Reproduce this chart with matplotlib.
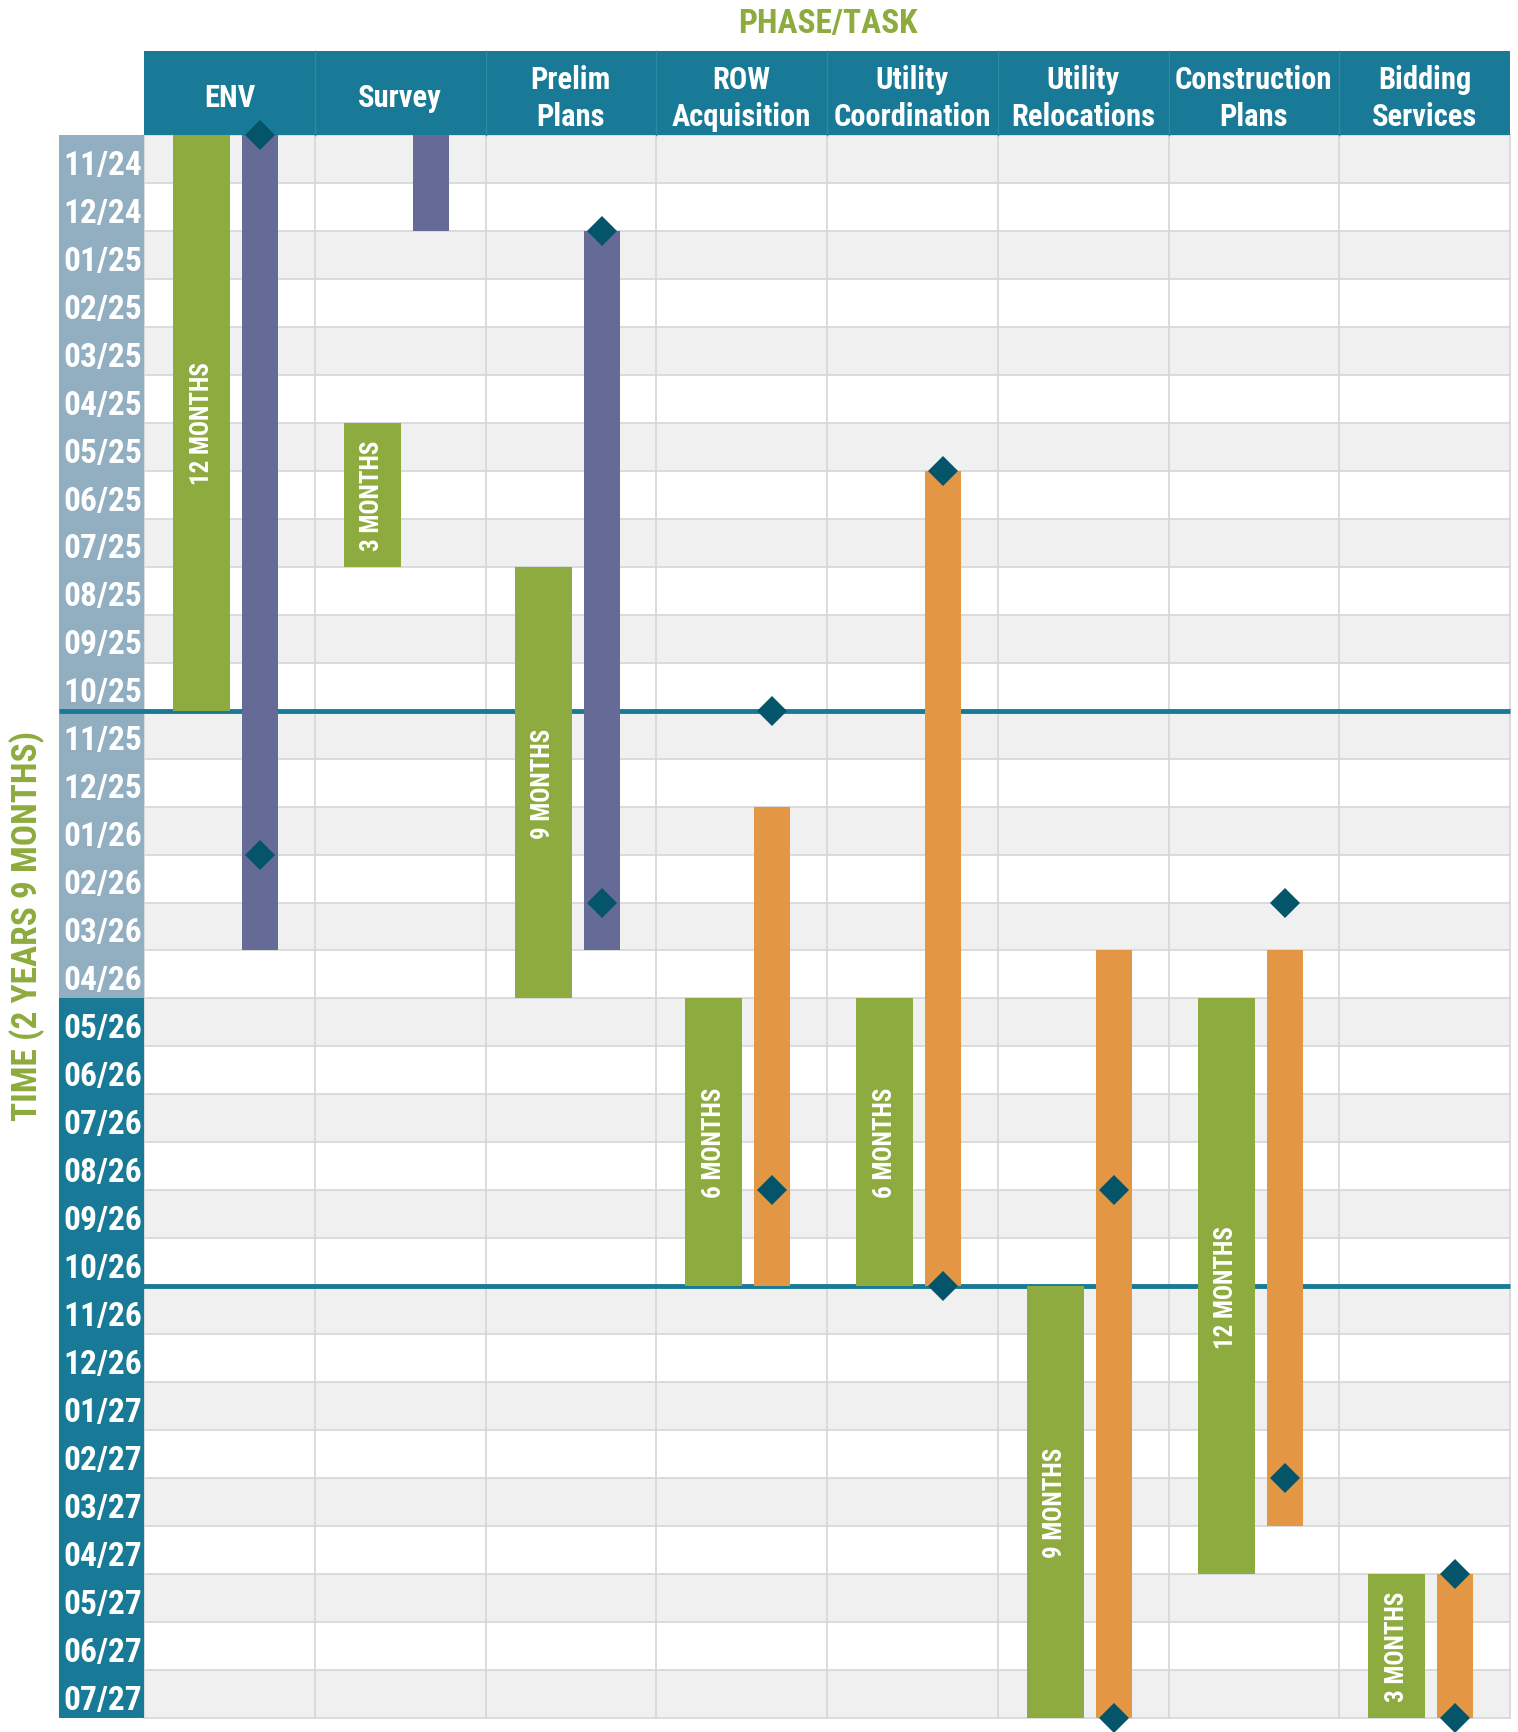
import matplotlib
matplotlib.use('Agg')
import matplotlib.pyplot as plt
from matplotlib import font_manager
from matplotlib.patches import Rectangle

# month rows, top to bottom
months = ['11/24', '12/24',
          '01/25', '02/25', '03/25', '04/25', '05/25', '06/25',
          '07/25', '08/25', '09/25', '10/25', '11/25', '12/25',
          '01/26', '02/26', '03/26', '04/26', '05/26', '06/26',
          '07/26', '08/26', '09/26', '10/26', '11/26', '12/26',
          '01/27', '02/27', '03/27', '04/27', '05/27', '06/27', '07/27']

phases = ['ENV', 'Survey', 'Prelim\nPlans', 'ROW\nAcquisition',
          'Utility\nCoordination', 'Utility\nRelocations',
          'Construction\nPlans', 'Bidding\nServices']

# green duration bars (start row, end row)
green_start = [0, 6, 9, 18, 18, 24, 18, 30]
green_end = [12, 9, 18, 24, 24, 33, 30, 33]
green_text = ['12 MONTHS', '3 MONTHS', '9 MONTHS', '6 MONTHS',
              '6 MONTHS', '9 MONTHS', '12 MONTHS', '3 MONTHS']

# second bar in each column
second_start = [0, 0, 2, 14, 7, 17, 17, 30]
second_end = [17, 2, 17, 24, 24, 33, 29, 33]
second_kind = ['purple', 'purple', 'purple', 'orange',
               'orange', 'orange', 'orange', 'orange']

# milestones (column, row boundary)
diamond_col = [0, 0, 2, 2, 3, 3, 4, 4, 5, 5, 6, 6, 7, 7]
diamond_row = [0, 15, 2, 16, 12, 22, 7, 24, 22, 33, 16, 28, 30, 33]

year_breaks = [12, 24]
light_rows = 18  # rows with pale label background

GREEN = '#8dab3e'
PURPLE = '#666a96'
ORANGE = '#e39745'
TEAL = '#187a96'
PALE = '#92aec1'
DIAMOND = '#04546a'
colors = {'purple': PURPLE, 'orange': ORANGE}

# pick a narrow bold font if there is one
names = {f.name for f in font_manager.fontManager.ttflist}
font = None
for cand in ['Liberation Sans Narrow', 'Roboto Condensed', 'Open Sans Condensed']:
    if cand in names:
        font = cand
        break
k = 1.0
stretch = 'normal'
if font is None:
    if any(f.name == 'DejaVu Sans' and f.stretch == 'condensed' for f in font_manager.fontManager.ttflist):
        font, stretch = 'DejaVu Sans', 'condensed'
        k = 0.9
    else:
        font = 'Roboto'
        k = 0.85
plt.rcParams['font.family'] = [font, 'DejaVu Sans']
plt.rcParams['font.stretch'] = stretch

W, H = 1518, 1733
fig = plt.figure(figsize=(W / 100, H / 100), dpi=100)
ax = fig.add_axes([144 / W, 1 - 1719 / H, (1510 - 144) / W, (1719 - 136) / H])
n = len(months)
ncol = len(phases)
ax.set_xlim(0, ncol)
ax.set_ylim(n, 0)
ax.axis('off')

# row stripes + grid
for i in range(n):
    if i % 2 == 0:
        ax.add_patch(Rectangle((0, i), ncol, 1, fc='#f0f0f0', ec='none', zorder=0))
for i in range(n + 1):
    ax.plot([0, ncol], [i, i], color='#d6d6d6', lw=1.2, zorder=1, clip_on=False)
for c in range(ncol + 1):
    ax.plot([c, c], [0, n], color='#d6d6d6', lw=1.2, zorder=1, clip_on=False)

# header band
hh = 1.75
ax.add_patch(Rectangle((0, -hh), ncol, hh, fc=TEAL, ec='none', clip_on=False, zorder=2))
for c in range(1, ncol):
    ax.plot([c, c], [-hh, 0], color='#2f89a2', lw=1, clip_on=False, zorder=3)
for c, name in enumerate(phases):
    ax.text(c + 0.5, -hh / 2 + 0.09, name, ha='center', va='center', color='white',
            fontsize=22 * k, fontweight='bold', linespacing=1.3, clip_on=False, zorder=4)

# month label panel
px = -0.5
ax.add_patch(Rectangle((px, 0), -px, light_rows, fc=PALE, ec='none', clip_on=False, zorder=2))
ax.add_patch(Rectangle((px, light_rows), -px, n - light_rows, fc=TEAL, ec='none', clip_on=False, zorder=2))
for i, m in enumerate(months):
    ax.text(px / 2 + 0.01, i + 0.62, m, ha='center', va='center', color='white',
            fontsize=24 * k, fontweight='bold', clip_on=False, zorder=4)

# year separators
for b in year_breaks:
    ax.plot([px, ncol], [b, b], color=TEAL, lw=3.5, solid_capstyle='butt',
            clip_on=False, zorder=3)

# bars
for c in range(ncol):
    g0, g1 = green_start[c], green_end[c]
    ax.add_patch(Rectangle((c + 0.17, g0), 0.334, g1 - g0, fc=GREEN, ec='none', zorder=5))
    ax.text(c + 0.337, (g0 + g1) / 2, green_text[c], rotation=90, ha='center', va='center',
            color='white', fontsize=18 * k, fontweight='bold', zorder=6)
    s0, s1 = second_start[c], second_end[c]
    ax.add_patch(Rectangle((c + 0.574, s0), 0.211, s1 - s0, fc=colors[second_kind[c]],
                           ec='none', zorder=5))

# milestones
dx = [c + 0.68 for c in diamond_col]
ax.plot(dx, diamond_row, ls='none', marker='D', ms=15.5, mfc=DIAMOND, mew=0,
        clip_on=False, zorder=7)

fig.text(828 / W, 1 - 24 / H, 'PHASE/TASK', ha='center', va='center', color=GREEN,
         fontsize=24 * k, fontweight='bold')
fig.text(27 / W, 1 - 926 / H, 'TIME (2 YEARS 9 MONTHS)', rotation=90, ha='center',
         va='center', color=GREEN, fontsize=25.5 * k, fontweight='bold')

fig.savefig('out.png', dpi=100)
